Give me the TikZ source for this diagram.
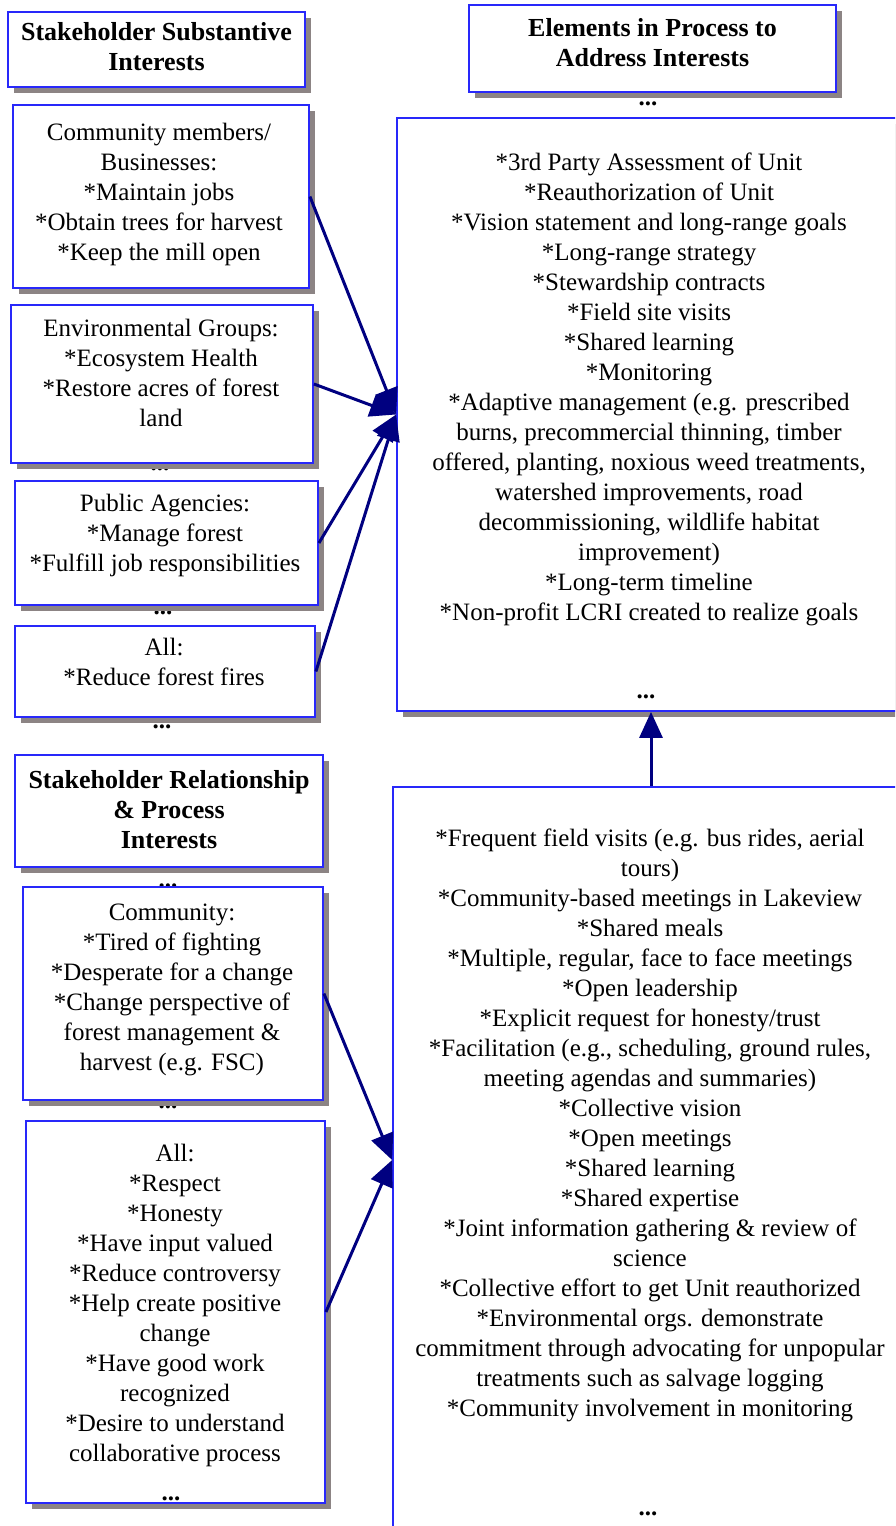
\documentclass[tikz,border=0pt]{standalone}
\usepackage{fontspec}
\setmainfont{Liberation Serif}
\usetikzlibrary{arrows.meta,shadows}
\definecolor{boxblue}{RGB}{40,40,250}
\definecolor{shade}{RGB}{140,132,132}
\definecolor{navy}{RGB}{0,0,128}
\begin{document}
\begin{tikzpicture}[x=1pt,y=-1pt,
 box/.style={draw=boxblue, line width=1.8pt, fill=white, inner sep=0pt, rectangle,
   drop shadow={shadow xshift=6pt, shadow yshift=-6pt, fill=shade, opacity=1}},
 bigbox/.style={draw=boxblue, line width=1.8pt, fill=white, inner sep=0pt, rectangle},
 txt/.style={align=center, inner sep=0pt, anchor=north, font=\fontsize{25}{30}\selectfont, execute at begin node=\strut},
 hd/.style={txt, font=\fontsize{26}{30}\selectfont\bfseries},
 dotsty/.style={inner sep=0pt, anchor=base, font=\fontsize{25}{30}\selectfont\bfseries},
 arr/.style={draw=navy, line width=3pt, -{Triangle[length=26pt,width=23pt]}}]
\useasboundingbox (0,0) rectangle (895,1526);
\clip (0,0) rectangle (895,1526);
% dots between boxes (partly hidden under the boxes)
\node[dotsty] (d1) at (158,108) {...};
\node[dotsty] (d3) at (160,470) {...};
\node[dotsty] (d4) at (163,614) {...};
\node[dotsty] (d5) at (162,728) {...};
\node[dotsty] (d6) at (168,887) {...};
\node[dotsty] (d7) at (168,1108) {...};
\node[dotsty] (d8) at (648,105) {...};
% boxes
\node[box, minimum width=297pt, minimum height=75pt] (h1) at (156.5,49.5) {};
\node[box, minimum width=296pt, minimum height=183pt] (b2) at (161,196.5) {};
\node[box, minimum width=302pt, minimum height=158pt] (b3) at (162,384) {};
\node[box, minimum width=303pt, minimum height=124pt] (b4) at (166.5,543) {};
\node[box, minimum width=300pt, minimum height=91pt] (b5) at (165,671.5) {};
\node[box, minimum width=308pt, minimum height=112pt] (h2) at (169,811) {};
\node[box, minimum width=300pt, minimum height=213pt] (b6) at (173,993.5) {};
\node[box, minimum width=299pt, minimum height=382pt] (b7) at (175.5,1312) {};
\node[box, minimum width=367pt, minimum height=87pt] (h3) at (652.5,48.5) {};
\node[box, minimum width=508pt, minimum height=593pt] (bb) at (651,414.5) {};
\node[bigbox, minimum width=516pt, minimum height=746pt] (bc) at (651,1160) {};
% texts
\node[hd] (th1) at (156.5,22.5) {Stakeholder Substantive\\Interests};
\node[txt] (tb2) at (159,122.5) {Community members/\\Businesses:\\*Maintain jobs\\*Obtain trees for harvest\\*Keep the mill open};
\node[txt] (tb3) at (161,318.5) {Environmental Groups:\\*Ecosystem Health\\*Restore acres of forest\\land};
\node[txt] (tb4) at (165,493.5) {Public Agencies:\\*Manage forest\\*Fulfill job responsibilities};
\node[txt] (tb5) at (164,637.5) {All:\\*Reduce forest fires};
\node[hd] (th2) at (169,770.5) {Stakeholder Relationship\\\& Process\\Interests};
\node[txt] (tb6) at (172,903.5) {Community:\\*Tired of fighting\\*Desperate for a change\\*Change perspective of\\forest management \&\\harvest (e.g. FSC)};
\node[txt] (tb7) at (175,1143.5) {All:\\*Respect\\*Honesty\\*Have input valued\\*Reduce controversy\\*Help create positive\\change\\*Have good work\\recognized\\*Desire to understand\\collaborative process};
\node[dotsty] (d9) at (171,1500) {...};
\node[hd] (th3) at (652.5,18.5) {Elements in Process to\\Address Interests};
\node[txt] (tbb) at (649,152.5) {*3rd Party Assessment of Unit\\*Reauthorization of Unit\\*Vision statement and long-range goals\\*Long-range strategy\\*Stewardship contracts\\*Field site visits\\*Shared learning\\*Monitoring\\*Adaptive management (e.g. prescribed\\burns, precommercial thinning, timber\\offered, planting, noxious weed treatments,\\watershed improvements, road\\decommissioning, wildlife habitat\\improvement)\\*Long-term timeline\\*Non-profit LCRI created to realize goals};
\node[dotsty] (d10) at (646,698) {...};
\node[txt] (tbc) at (650,828.5) {*Frequent field visits (e.g. bus rides, aerial\\tours)\\*Community-based meetings in Lakeview\\*Shared meals\\*Multiple, regular, face to face meetings\\*Open leadership\\*Explicit request for honesty/trust\\*Facilitation (e.g., scheduling, ground rules,\\meeting agendas and summaries)\\*Collective vision\\*Open meetings\\*Shared learning\\*Shared expertise\\*Joint information gathering \& review of\\science\\*Collective effort to get Unit reauthorized\\*Environmental orgs. demonstrate\\commitment through advocating for unpopular\\treatments such as salvage logging\\*Community involvement in monitoring};
\node[dotsty] (d11) at (648,1515) {...};
% connectors
\draw[arr] (b2.east) -- (bb.west);
\draw[arr] (b3.east) -- (bb.west);
\draw[arr] (b4.east) -- (bb.west);
\draw[arr] (b5.east) -- (bb.west);
\draw[arr] (bc.north) -- (bb.south);
\draw[arr] (b6.east) -- (bc.west);
\draw[arr] (b7.east) -- (bc.west);
\end{tikzpicture}
\end{document}
